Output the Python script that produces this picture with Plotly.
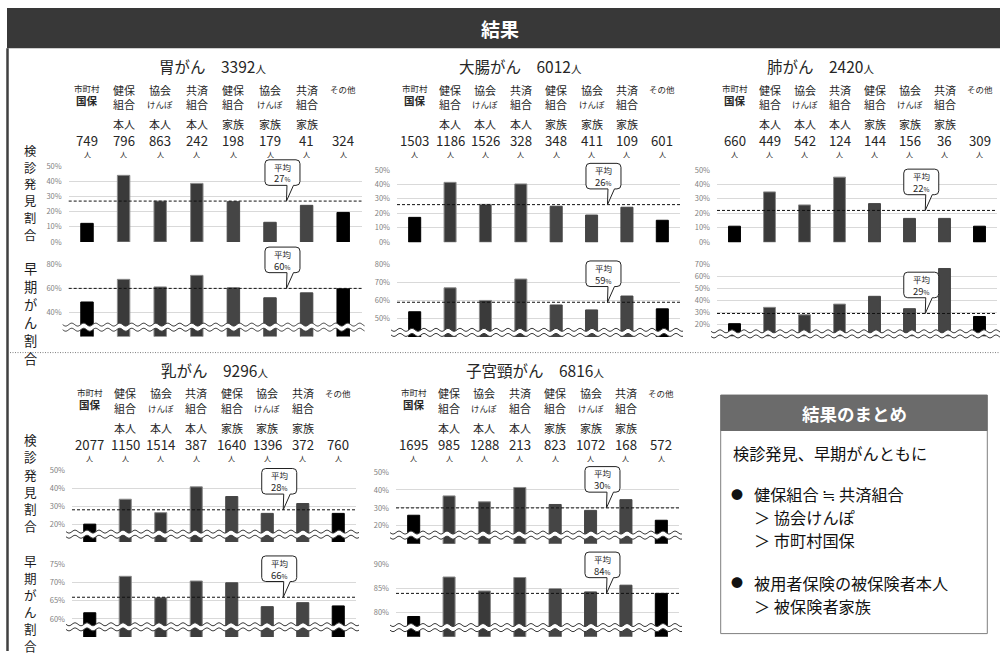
import math
import plotly.graph_objects as go

W, H = 1000, 656
FONT = "Noto Sans CJK JP"

# ---------------- data ----------------
cancer_names = ["胃がん", "大腸がん", "肺がん", "乳がん", "子宮頸がん"]
cancer_totals = [3392, 6012, 2420, 9296, 6816]

insurer_line1 = ["市町村", "健保", "協会", "共済", "健保", "協会", "共済", "その他"]
insurer_line2 = ["国保", "組合", "けんぽ", "組合", "組合", "けんぽ", "組合", ""]
member_kind = ["", "本人", "本人", "本人", "家族", "家族", "家族", ""]

counts_stomach = [749, 796, 863, 242, 198, 179, 41, 324]
counts_colon = [1503, 1186, 1526, 328, 348, 411, 109, 601]
counts_lung = [660, 449, 542, 124, 144, 156, 36, 309]
counts_breast = [2077, 1150, 1514, 387, 1640, 1396, 372, 760]
counts_cervix = [1695, 985, 1288, 213, 823, 1072, 168, 572]

# screening-detected share (%)
detect_stomach = [12.3, 44.0, 27.0, 38.7, 26.6, 13.0, 24.2, 19.5]
detect_colon = [17.2, 41.4, 26.2, 40.3, 24.9, 18.8, 24.2, 15.2]
detect_lung = [11.1, 34.8, 25.8, 45.0, 26.7, 16.5, 16.5, 11.1]
detect_breast = [20.0, 33.9, 26.4, 40.8, 35.4, 26.0, 31.5, 26.0]
detect_cervix = [25.9, 36.7, 33.4, 41.4, 31.9, 28.6, 34.6, 23.1]

# early-stage share (%)
early_stomach = [48.7, 67.5, 61.2, 70.8, 60.4, 52.2, 56.3, 59.6]
early_colon = [53.8, 66.9, 60.0, 71.7, 57.5, 54.8, 62.4, 55.4]
early_lung = [20.5, 34.1, 27.9, 36.8, 43.3, 33.0, 66.5, 26.5]
early_breast = [61.7, 71.8, 65.9, 70.5, 70.0, 63.4, 64.5, 63.6]
early_cervix = [79.2, 87.4, 84.5, 87.3, 84.9, 84.3, 85.7, 84.0]

detect_avg = [27, 26, 22, 28, 30]
early_avg = [60, 59, 29, 66, 84]

counts_all = [counts_stomach, counts_colon, counts_lung, counts_breast, counts_cervix]
detect_all = [detect_stomach, detect_colon, detect_lung, detect_breast, detect_cervix]
early_all = [early_stomach, early_colon, early_lung, early_breast, early_cervix]

side_detect = "検診発見割合"
side_early = "早期がん割合"

summary_title = "結果のまとめ"
summary_lines = [
    ("", "検診発見、早期がんともに"),
    ("●", "健保組合 ≒ 共済組合"),
    ("", "＞ 協会けんぽ"),
    ("", "＞ 市町村国保"),
    ("●", "被用者保険の被保険者本人"),
    ("", "＞ 被保険者家族"),
]

# ---------------- geometry (pixels) ----------------
GEOM = [
    dict(xl=68.7, xr=361.5, tx=212, row=0,
         top=dict(t=163.0, b=240.0, lo=0, hi=50, step=10, brk=None),
         bot=dict(t=262.7, b=336.2, lo=20, hi=80, step=20, brk=27.8)),
    dict(xl=397, xr=680, tx=520, row=0,
         top=dict(t=166.7, b=240.3, lo=0, hi=50, step=10, brk=None),
         bot=dict(t=262.3, b=336.6, lo=40, hi=80, step=10, brk=42.5)),
    dict(xl=717, xr=997, tx=820, row=0,
         top=dict(t=166.7, b=240.3, lo=0, hi=50, step=10, brk=None),
         bot=dict(t=262.7, b=335.9, lo=10, hi=70, step=10, brk=12.0)),
    dict(xl=72, xr=356, tx=214, row=1,
         top=dict(t=472.3, b=545.2, lo=10, hi=50, step=10, brk=14.4),
         bot=dict(t=568.3, b=641.7, lo=55, hi=75, step=5, brk=57.8)),
    dict(xl=396, xr=679, tx=535, row=1,
         top=dict(t=474.0, b=546.9, lo=10, hi=50, step=10, brk=14.8),
         bot=dict(t=568.0, b=641.5, lo=75, hi=90, step=5, brk=76.9)),
]
ROW_OFF = [0, 309]

BAR_COLORS = ["#000000", "#3a3a3a", "#3a3a3a", "#3a3a3a", "#454545", "#454545", "#454545", "#000000"]
BAR_LINES = ["#000000", "#8a8a8a", "#8a8a8a", "#8a8a8a", "#454545", "#454545", "#454545", "#000000"]
TEXT = "#262626"


def px(x):
    return x / W


def py(y):
    return 1 - y / H


def val_to_py(sub, v):
    return sub["b"] - (v - sub["lo"]) / (sub["hi"] - sub["lo"]) * (sub["b"] - sub["t"])


def cat_to_px(g, i):
    return g["xl"] + (i + 0.5) * (g["xr"] - g["xl"]) / 8


fig = go.Figure()
shapes = []
annos = []


def ann(x, y, text, size, color=TEXT, xanchor="center", yanchor="middle", xref="paper", bold=False):
    if bold:
        text = "<b>" + text + "</b>"
    annos.append(dict(x=x, y=py(y), xref=xref, yref="paper", text=text, showarrow=False,
                      xanchor=xanchor, yanchor=yanchor, borderpad=0,
                      font=dict(family=FONT, size=size, color=color)))


def wave_pts(x0, x1, yc, amp=1.5, period=12.0):
    n = int(x1 - x0)
    pts = []
    for k in range(n + 1):
        x = x0 + (x1 - x0) * k / n
        pts.append((x, yc + amp * math.sin(2 * math.pi * (x - x0) / period)))
    return pts


def path_of(pts):
    return "M " + " L ".join(f"{px(a):.5f},{py(b):.5f}" for a, b in pts)


axis_idx = 0
for p in range(5):
    g = GEOM[p]
    roff = ROW_OFF[g["row"]]
    for which, vals, avg in (("top", detect_all[p], detect_avg[p]), ("bot", early_all[p], early_avg[p])):
        sub = g[which]
        axis_idx += 1
        sfx = "" if axis_idx == 1 else str(axis_idx)
        xa, ya = "x" + sfx, "y" + sfx
        ticks = list(range(sub["lo"], sub["hi"] + 1, sub["step"]))
        labels = [("" if (sub["brk"] is not None and t == sub["lo"]) else f"{t}%") for t in ticks]
        fig.update_layout(**{
            "xaxis" + sfx: dict(domain=[px(g["xl"]), px(g["xr"])], range=[-0.5, 7.5],
                                showticklabels=False, showgrid=False, zeroline=False,
                                showline=False, fixedrange=True, anchor=ya),
            "yaxis" + sfx: dict(domain=[py(sub["b"]), py(sub["t"])],
                                range=[sub["lo"] - 0.0001, sub["hi"] + 0.0001],
                                tickvals=ticks, ticktext=labels, showgrid=True,
                                gridcolor="#d9d9d9", gridwidth=1, zeroline=False,
                                showline=False, ticks="", ticklabelstandoff=6,
                                tickfont=dict(family=FONT, size=7.5, color="#7f7f7f"),
                                fixedrange=True, anchor=xa),
        })
        fig.add_trace(go.Bar(x=list(range(8)), y=vals, xaxis=xa, yaxis=ya, width=0.34,
                             marker=dict(color=BAR_COLORS, line=dict(color=BAR_LINES, width=1)),
                             showlegend=False, hoverinfo="skip"))
        # average line
        ay = val_to_py(sub, avg)
        shapes.append(dict(type="line", xref="paper", yref="paper", x0=px(g["xl"]), x1=px(g["xr"]),
                           y0=py(ay), y1=py(ay), line=dict(color="#111111", width=1, dash="3px,2px"),
                           layer="above"))
        # axis break
        if sub["brk"] is not None:
            yc = val_to_py(sub, sub["brk"])
            x0, x1 = g["xl"] - 6, g["xr"] + 3
            up = wave_pts(x0, x1, yc - 2.6)
            lo = wave_pts(x0, x1, yc + 2.6)
            band = up + lo[::-1]
            shapes.append(dict(type="path", xref="paper", yref="paper", path=path_of(band) + " Z",
                               fillcolor="white", line=dict(width=0), layer="above"))
            for w in (up, lo):
                shapes.append(dict(type="path", xref="paper", yref="paper", path=path_of(w),
                                   line=dict(color="#3a3a3a", width=1), layer="above"))
        # callout bubble
        tx = cat_to_px(g, 5.45)
        ty = ay
        L, R = tx - 21.5, tx + 13.5
        B = ty - 16
        T = B - 26
        r = 4
        pts = [("M", L + r, T), ("L", R - r, T), ("Q", R, T, R, T + r), ("L", R, B - r),
               ("Q", R, B, R - r, B), ("L", tx + 7, B), ("L", tx, ty), ("L", tx + 0.5, B),
               ("L", L + r, B), ("Q", L, B, L, B - r), ("L", L, T + r), ("Q", L, T, L + r, T)]
        segs = []
        for s in pts:
            if s[0] == "Q":
                segs.append(f"Q {px(s[1]):.5f},{py(s[2]):.5f} {px(s[3]):.5f},{py(s[4]):.5f}")
            else:
                segs.append(f"{s[0]} {px(s[1]):.5f},{py(s[2]):.5f}")
        shapes.append(dict(type="path", xref="paper", yref="paper", path=" ".join(segs) + " Z",
                           fillcolor="white", line=dict(color="#222222", width=1), layer="above"))
        cx = px((L + R) / 2)
        ann(cx, T + 7.0, "平均", 8.5)
        ann(cx, T + 19.0, f"{avg}<span style='font-size:6.5px'>%</span>", 9.5)

    # panel header
    top_sfx = "" if axis_idx - 1 == 1 else str(axis_idx - 1)
    xr_ = "x" + top_sfx
    ann(px(g["tx"]), roff + 61,
        f"{cancer_names[p]}　{cancer_totals[p]}<span style='font-size:10.5px'>人</span>", 15.5)
    for i in range(8):
        if i == 0:
            ann(i, roff + 83.8, insurer_line1[i], 8.5, xref=xr_)
            ann(i, roff + 96.2, insurer_line2[i], 10.5, xref=xr_, bold=True)
        elif i == 7:
            ann(i, roff + 84.5, insurer_line1[i], 8.5, xref=xr_)
        else:
            ann(i, roff + 85, insurer_line1[i], 11, xref=xr_)
            small = insurer_line2[i] == "けんぽ"
            ann(i, roff + 99.7, insurer_line2[i], 8.5 if small else 11, xref=xr_)
            ann(i, roff + 119.7, member_kind[i], 11, xref=xr_)
        ann(i, roff + 137.3, str(counts_all[p][i]), 13.2, xref=xr_)
        ann(i, roff + 151.0, "人", 7, xref=xr_)

# vertical side labels: one character per line, stacked downwards
side_spec = [
    (side_detect, 147.5, 17.0), (side_early, 267.0, 18.3),
    (side_detect, 441.0, 17.5), (side_early, 563.5, 17.4),
]
for text, y0, step in side_spec:
    size = (step + 0.8) / 1.448
    for k, ch in enumerate(text):
        ann(px(30), y0 + k * step, ch, size, color="#1a1a1a")

# title banner and frame
shapes.append(dict(type="rect", xref="paper", yref="paper", x0=px(7), x1=1, y0=py(43), y1=py(2),
                   fillcolor="#383838", line=dict(width=0), layer="below"))
ann(0.5, 22.5, "結果", 19, color="white", bold=True)
shapes.append(dict(type="line", xref="paper", yref="paper", x0=px(7.5), x1=px(7.5), y0=py(43), y1=0,
                   line=dict(color="#404040", width=2.5)))
shapes.append(dict(type="line", xref="paper", yref="paper", x0=px(10), x1=1, y0=py(352.5), y1=py(352.5),
                   line=dict(color="#7f7f7f", width=1, dash="1px,1.5px")))

# summary box
shapes.append(dict(type="rect", xref="paper", yref="paper", x0=px(720.7), x1=px(987.3),
                   y0=py(638.3), y1=py(431.7), fillcolor="white", line=dict(color="#7f7f7f", width=1)))
shapes.append(dict(type="rect", xref="paper", yref="paper", x0=px(720.7), x1=px(987.3),
                   y0=py(431.7), y1=py(395.7), fillcolor="#6b6b6b", line=dict(color="#6b6b6b", width=1)))
ann(px(854), 414, summary_title, 17.5, color="white", bold=True)
sum_y = [454.3, 496.5, 519.6, 542.9, 586.7, 610.0]
for (bullet, text), yy in zip(summary_lines, sum_y):
    if bullet:
        ann(px(737), yy, bullet, 12, color="#111111")
    x0 = 731.7 if (not bullet and not text.startswith("＞")) else 752.5
    ann(px(x0), yy, text, 16.2, color="#111111", xanchor="left")

fig.update_layout(width=W, height=H, margin=dict(l=0, r=0, t=0, b=0),
                  paper_bgcolor="white", plot_bgcolor="rgba(0,0,0,0)",
                  shapes=shapes, annotations=annos, bargap=0.5,
                  font=dict(family=FONT))

fig.write_html("out.html")
